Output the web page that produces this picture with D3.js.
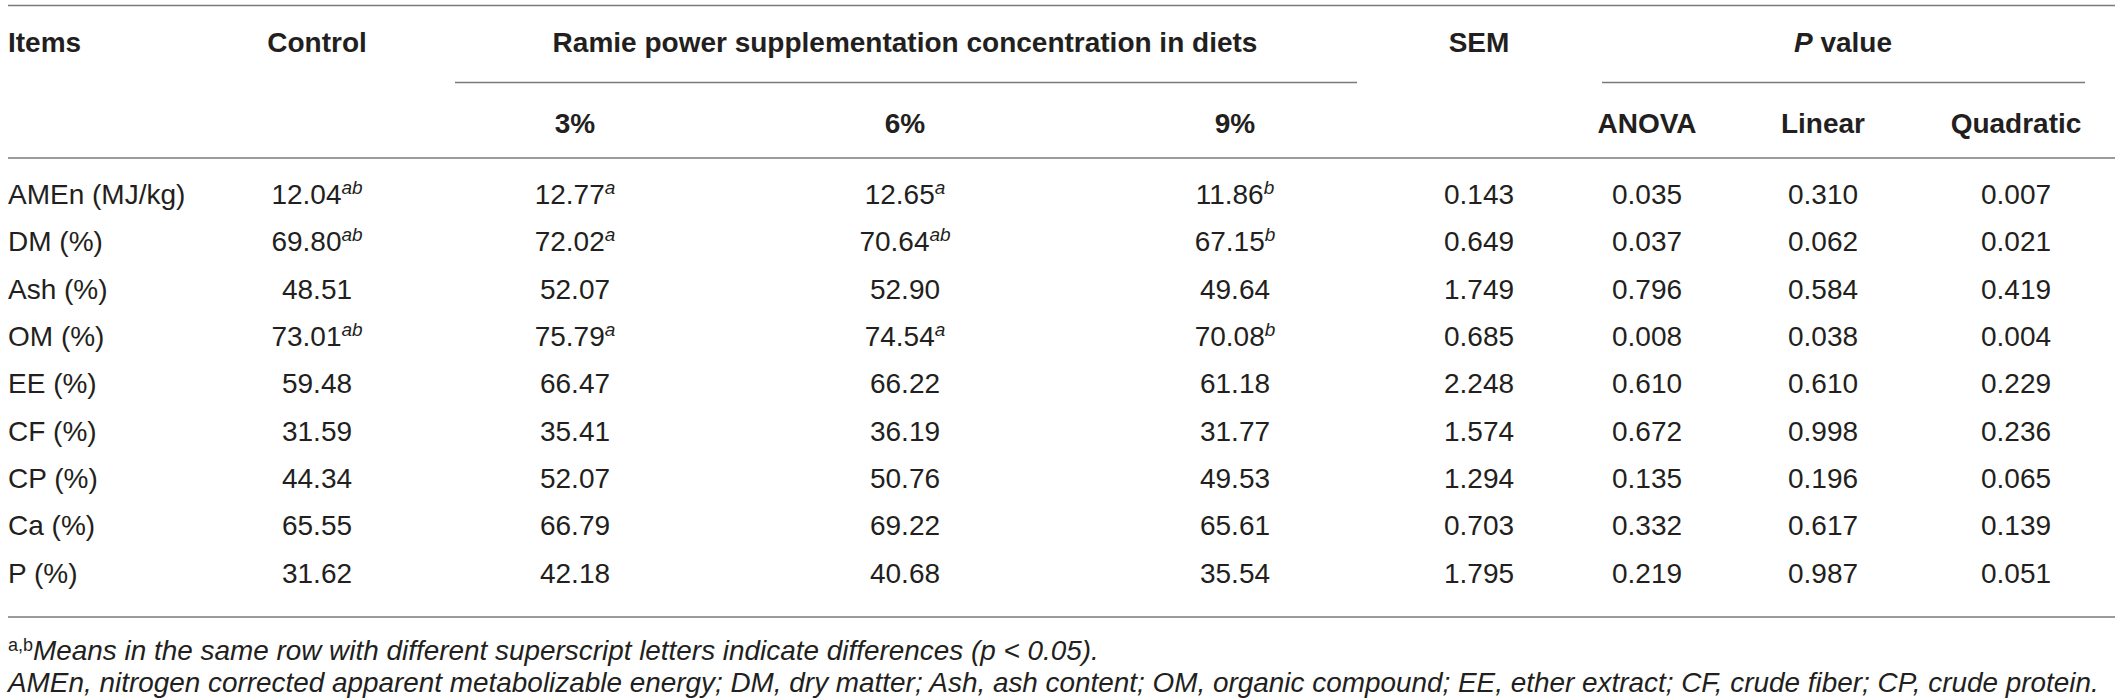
<!DOCTYPE html>
<html>
<head>
<meta charset="utf-8">
<script src="https://cdn.jsdelivr.net/npm/d3@7/dist/d3.min.js"></script>
<style>
  html, body { margin: 0; padding: 0; background: #fff; }
  svg { display: block; }
  text { font-family: "Liberation Sans", Arial, Helvetica, sans-serif; }
</style>
</head>
<body>
<svg id="chart" width="2120" height="700"></svg>
<script>
// ---------- data ----------
const items = ["AMEn (MJ/kg)", "DM (%)", "Ash (%)", "OM (%)", "EE (%)", "CF (%)", "CP (%)", "Ca (%)", "P (%)"];
const control    = [12.04, 69.80, 48.51, 73.01, 59.48, 31.59, 44.34, 65.55, 31.62];
const controlSup = ["ab", "ab", "", "ab", "", "", "", "", ""];
const ramie3     = [12.77, 72.02, 52.07, 75.79, 66.47, 35.41, 52.07, 66.79, 42.18];
const ramie3Sup  = ["a", "a", "", "a", "", "", "", "", ""];
const ramie6     = [12.65, 70.64, 52.90, 74.54, 66.22, 36.19, 50.76, 69.22, 40.68];
const ramie6Sup  = ["a", "ab", "", "a", "", "", "", "", ""];
const ramie9     = [11.86, 67.15, 49.64, 70.08, 61.18, 31.77, 49.53, 65.61, 35.54];
const ramie9Sup  = ["b", "b", "", "b", "", "", "", "", ""];
const sem        = [0.143, 0.649, 1.749, 0.685, 2.248, 1.574, 1.294, 0.703, 1.795];
const pAnova     = [0.035, 0.037, 0.796, 0.008, 0.610, 0.672, 0.135, 0.332, 0.219];
const pLinear    = [0.310, 0.062, 0.584, 0.038, 0.610, 0.998, 0.196, 0.617, 0.987];
const pQuadratic = [0.007, 0.021, 0.419, 0.004, 0.229, 0.236, 0.065, 0.139, 0.051];

const subHeaders   = ["3%", "6%", "9%", "ANOVA", "Linear", "Quadratic"];
const footnote1    = "Means in the same row with different superscript letters indicate differences (p < 0.05).";
const footnote2    = "AMEn, nitrogen corrected apparent metabolizable energy; DM, dry matter; Ash, ash content; OM, organic compound; EE, ether extract; CF, crude fiber; CP, crude protein.";

// ---------- layout ----------
const svg = d3.select("#chart");
const ink = "#231f20";
const rule = "#7a7a7a";
const fs = 28;

const colX = d3.scaleOrdinal()
  .domain(["control", "r3", "r6", "r9", "sem", "anova", "linear", "quadratic"])
  .range([317, 575, 905, 1235, 1479, 1647, 1823, 2016]);

const rowY = d3.scaleLinear().domain([0, items.length - 1]).range([204, 582.5]);

// rules
const hline = (x1, x2, y) => svg.append("line")
  .attr("x1", x1).attr("x2", x2).attr("y1", y).attr("y2", y)
  .attr("stroke", rule).attr("stroke-width", 1.6);
hline(8, 2115, 5.5);
hline(455, 1357, 82.5);
hline(1602, 2085, 82.5);
hline(8, 2115, 158);
hline(8, 2115, 617);

// header row 1
const hdr = svg.append("g").attr("font-weight", "bold").attr("font-size", fs).attr("fill", ink);
hdr.append("text").attr("x", 8).attr("y", 52).text("Items");
hdr.append("text").attr("x", colX("control")).attr("y", 52).attr("text-anchor", "middle").text("Control");
hdr.append("text").attr("x", colX("r6")).attr("y", 52).attr("text-anchor", "middle")
  .text("Ramie power supplementation concentration in diets");
hdr.append("text").attr("x", colX("sem")).attr("y", 52).attr("text-anchor", "middle").text("SEM");
const pv = hdr.append("text").attr("x", 1843).attr("y", 52).attr("text-anchor", "middle");
pv.append("tspan").attr("font-style", "italic").text("P");
pv.append("tspan").text(" value");

// header row 2
const subKeys = ["r3", "r6", "r9", "anova", "linear", "quadratic"];
hdr.selectAll("text.sub").data(subHeaders).join("text")
  .attr("class", "sub")
  .attr("x", (d, i) => colX(subKeys[i]))
  .attr("y", 133)
  .attr("text-anchor", "middle")
  .text(d => d);

// body
const f2 = d3.format(".2f"), f3 = d3.format(".3f");
const rows = items.map((name, i) => ({
  name,
  cells: [
    { key: "control", v: f2(control[i]), sup: controlSup[i] },
    { key: "r3", v: f2(ramie3[i]), sup: ramie3Sup[i] },
    { key: "r6", v: f2(ramie6[i]), sup: ramie6Sup[i] },
    { key: "r9", v: f2(ramie9[i]), sup: ramie9Sup[i] },
    { key: "sem", v: f3(sem[i]), sup: "" },
    { key: "anova", v: f3(pAnova[i]), sup: "" },
    { key: "linear", v: f3(pLinear[i]), sup: "" },
    { key: "quadratic", v: f3(pQuadratic[i]), sup: "" }
  ]
}));

const body = svg.append("g").attr("font-size", fs).attr("fill", ink);
const rowG = body.selectAll("g.row").data(rows).join("g")
  .attr("class", "row")
  .attr("transform", (d, i) => `translate(0,${rowY(i)})`);

rowG.append("text").attr("x", 8).attr("y", 0).text(d => d.name);

rowG.selectAll("text.cell").data(d => d.cells).join("text")
  .attr("class", "cell")
  .attr("x", d => colX(d.key))
  .attr("y", 0)
  .attr("text-anchor", "middle")
  .each(function (d) {
    const t = d3.select(this);
    t.append("tspan").text(d.v);
    if (d.sup) {
      t.append("tspan").attr("font-style", "italic").attr("font-size", 19)
        .attr("dy", -10).text(d.sup);
    }
  });

// footnotes
const fn = svg.append("g").attr("fill", ink);
const n1 = fn.append("text").attr("x", 8).attr("y", 660).attr("font-size", 25);
n1.append("tspan").attr("font-size", 18).attr("dy", -9).text("a,b");
n1.append("tspan").attr("font-style", "italic").attr("dy", 9).text(footnote1);

const n2 = fn.append("text").attr("x", 8).attr("y", 692).attr("font-size", 25)
  .attr("font-style", "italic").text(footnote2);
// fit line 2 to reference width
const w2 = n2.node().getComputedTextLength();
const target = 2092;
const scaledFs = 25 * target / w2;
n2.attr("font-size", scaledFs);
n1.attr("font-size", scaledFs);
</script>
</body>
</html>
